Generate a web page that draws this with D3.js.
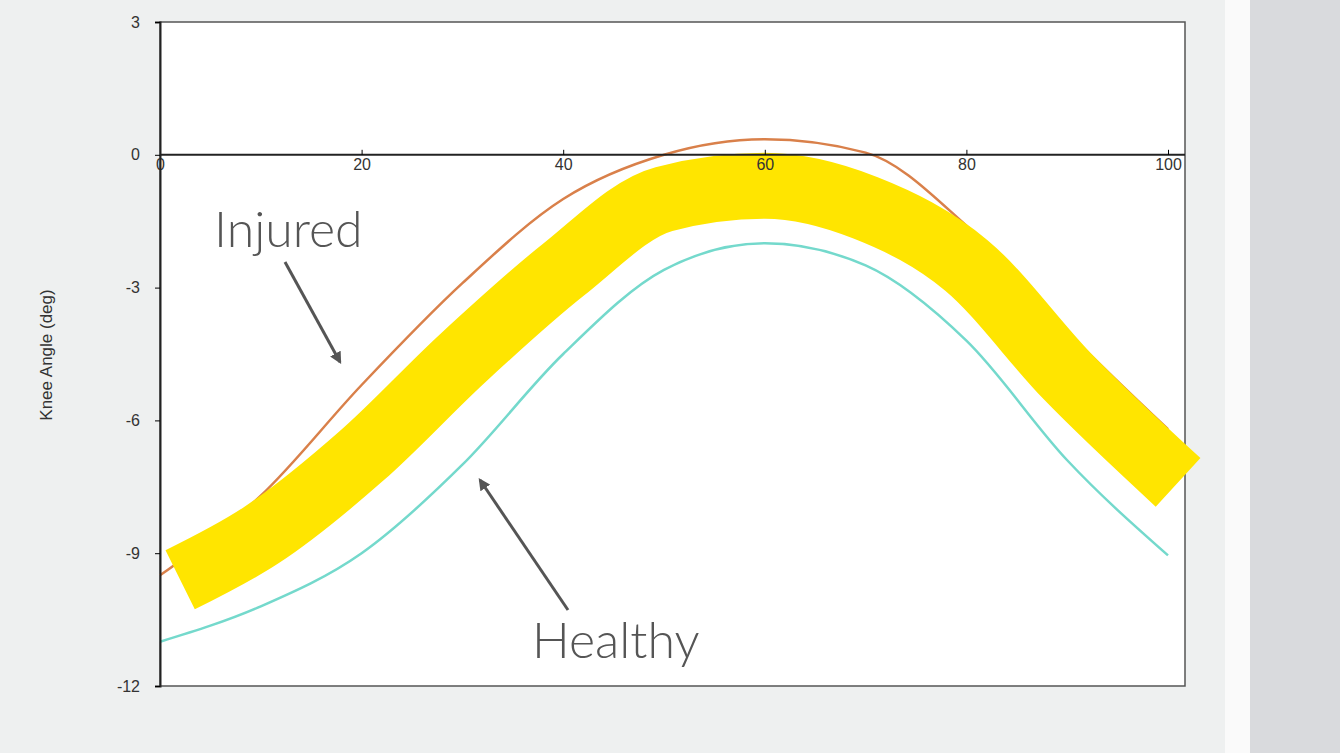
<!DOCTYPE html>
<html><head><meta charset="utf-8">
<script src="https://cdn.jsdelivr.net/npm/d3@7"></script>
<style>body{margin:0;background:#eef0f0;overflow:hidden}</style>
</head><body>
<svg id="chart" width="1340" height="753"></svg>
<script>
// gait cycle (%) and knee angle (deg)
var cycle = [0, 10, 20, 30, 40, 50, 60, 70, 80, 90, 100];
var injured = [-9.5, -7.7, -5.2, -2.9, -1.0, 0.0, 0.35, 0.05, -1.6, -4.0, -6.2];
var healthy = [-11.0, -10.2, -9.0, -7.0, -4.5, -2.6, -2.0, -2.5, -4.2, -6.9, -9.05];
var highlightX = [2, 10, 20, 30, 40, 50, 60, 70, 80, 90, 101];
var highlight = [-9.6, -8.6, -6.8, -4.6, -2.6, -1.0, -0.7, -1.2, -2.5, -5.0, -7.4];
var xTicks = [0, 20, 40, 60, 80, 100];
var yTicks = [3, 0, -3, -6, -9, -12];

var svg = d3.select('#chart');
// screen edge on the right
svg.append('rect').attr('x', 1225).attr('y', 0).attr('width', 25).attr('height', 753).attr('fill', '#fafafa');
svg.append('rect').attr('x', 1250).attr('y', 0).attr('width', 90).attr('height', 753).attr('fill', '#d9dadd');

var x = d3.scaleLinear().domain([0, 100]).range([160, 1168]);
var y = d3.scaleLinear().domain([3, -12]).range([22, 686]);

svg.append('rect').attr('x', 160).attr('y', 22).attr('width', 1025).attr('height', 664)
  .attr('fill', '#fff').attr('stroke', '#555').attr('stroke-width', 1.5);

function makeLine(xs) {
  return d3.line().x(function(d, i) { return x(xs[i]); }).y(function(d) { return y(d); }).curve(d3.curveMonotoneX);
}
svg.append('path').datum(healthy).attr('d', makeLine(cycle)).attr('fill', 'none')
  .attr('stroke', '#74d9cc').attr('stroke-width', 2.5);
svg.append('path').datum(injured).attr('d', makeLine(cycle)).attr('fill', 'none')
  .attr('stroke', '#d9804a').attr('stroke-width', 2.5);

svg.append('path').datum(highlight).attr('d', makeLine(highlightX)).attr('fill', 'none')
  .attr('stroke', '#ffe500').attr('stroke-width', 66).attr('stroke-linecap', 'butt');

// axes
var fmt = function(d) { return String(d); };
var xAxis = svg.append('g').attr('transform', 'translate(0,' + y(0) + ')')
  .call(d3.axisBottom(x).tickValues(xTicks).tickSize(-5).tickFormat(fmt));
var yAxis = svg.append('g').attr('transform', 'translate(160,0)')
  .call(d3.axisLeft(y).tickValues(yTicks).tickSize(5).tickFormat(fmt));
xAxis.select('.domain').attr('d', 'M160,0H1185').attr('stroke', '#222').attr('stroke-width', 2);
yAxis.select('.domain').attr('stroke', '#222').attr('stroke-width', 2);
svg.selectAll('.tick text').attr('font-family', 'Liberation Sans').attr('font-size', 16).attr('fill', '#333');
xAxis.selectAll('.tick text').attr('dy', 12);
yAxis.selectAll('.tick text').attr('dx', -12);

svg.append('text').attr('transform', 'translate(52,355) rotate(-90)').attr('text-anchor', 'middle')
  .attr('font-family', 'Liberation Sans').attr('font-size', 17).attr('fill', '#333').text('Knee Angle (deg)');

// annotations
svg.append('defs').append('marker').attr('id', 'arr').attr('viewBox', '0 0 10 10')
  .attr('refX', 8).attr('refY', 5).attr('markerWidth', 4).attr('markerHeight', 4).attr('orient', 'auto')
  .append('path').attr('d', 'M0,0L10,5L0,10z').attr('fill', '#555');
svg.append('text').attr('x', 214).attr('y', 247).attr('font-family', 'Lato').attr('font-weight', 300)
  .attr('font-size', 50).attr('fill', '#555').text('Injured');
svg.append('text').attr('x', 532).attr('y', 658).attr('font-family', 'Lato').attr('font-weight', 300)
  .attr('font-size', 50).attr('fill', '#555').text('Healthy');
svg.append('line').attr('x1', 285).attr('y1', 262).attr('x2', 340).attr('y2', 362)
  .attr('stroke', '#555').attr('stroke-width', 3).attr('marker-end', 'url(#arr)');
svg.append('line').attr('x1', 568).attr('y1', 610).attr('x2', 480).attr('y2', 480)
  .attr('stroke', '#555').attr('stroke-width', 3).attr('marker-end', 'url(#arr)');
</script>
</body></html>
